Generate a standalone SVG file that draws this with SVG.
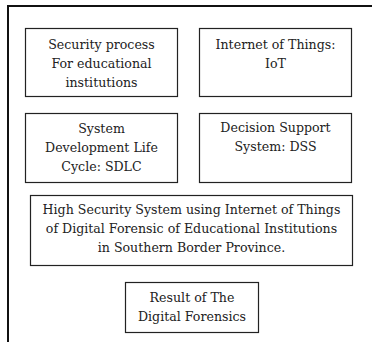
<svg xmlns="http://www.w3.org/2000/svg" width="372" height="342" viewBox="0 0 372 342">
<style>
.box{fill:#fff;stroke:#222;stroke-width:1.2}
text{font-family:"DejaVu Serif","Liberation Serif",serif;font-size:12.6px;fill:#222;text-anchor:middle}
.frame{fill:none;stroke:#111;stroke-width:2}
</style>
<rect width="372" height="342" fill="#fff"/>
<path class="frame" d="M8,343 V6 H373"/>
<g id="connectors"/>
<g id="n1">
<rect class="box" x="25.5" y="28.5" width="152" height="68"/>
<text x="101.5" y="49">Security process</text>
<text x="101.5" y="68">For educational</text>
<text x="101.5" y="87">institutions</text>
</g>
<g id="n2">
<rect class="box" x="199.5" y="28.5" width="152" height="68"/>
<text x="275.5" y="49">Internet of Things:</text>
<text x="275.5" y="68">IoT</text>
</g>
<g id="n3">
<rect class="box" x="25.5" y="113.5" width="152" height="69"/>
<text x="101.5" y="133">System</text>
<text x="101.5" y="152">Development Life</text>
<text x="101.5" y="171">Cycle:  SDLC</text>
</g>
<g id="n4">
<rect class="box" x="199.5" y="113.5" width="152" height="69"/>
<text x="275.5" y="132">Decision Support</text>
<text x="275.5" y="151">System: DSS</text>
</g>
<g id="n5">
<rect class="box" x="30.5" y="195.5" width="322" height="70"/>
<text x="191.5" y="214">High Security System using Internet of Things</text>
<text x="191.5" y="233">of Digital  Forensic of Educational Institutions</text>
<text x="191.5" y="252">in Southern Border  Province.</text>
</g>
<g id="n6">
<rect class="box" x="125.5" y="282.5" width="133" height="50"/>
<text x="192" y="302">Result of The</text>
<text x="192" y="321">Digital Forensics</text>
</g>
</svg>
